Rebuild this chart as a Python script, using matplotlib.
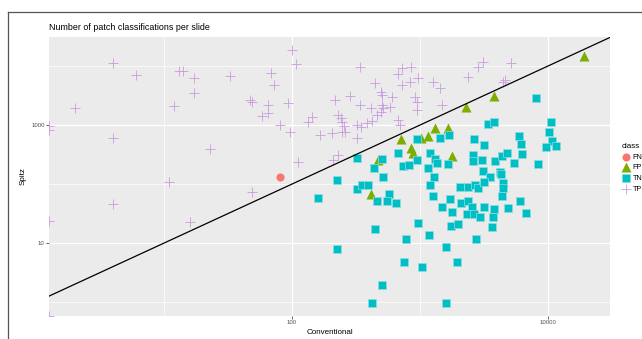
#!/usr/bin/env python3
# -*- coding: utf-8 -*-
"""Patch classifications per slide: Spitz vs Conventional, log-log scatter."""

import matplotlib
matplotlib.use('Agg')
import matplotlib.pyplot as plt
import numpy as np
from matplotlib.lines import Line2D
from matplotlib.ticker import NullFormatter

plt.rcParams['font.family'] = ['Liberation Sans', 'DejaVu Sans']

W, H = 642, 339

# Values. A 0 means the point sits on the panel edge.
fn_conventional = [81]
fn_spitz = [131]

fp_conventional = [19100, 3790, 2290, 1310, 1660, 1160, 1020, 711, 851, 882,
                   1780, 470, 414]
fp_spitz = [14800, 3100, 2020, 890, 890, 650, 600, 580, 407, 335,
            298, 255, 68]

tn_conventional = [8050, 3400, 3790, 10500, 10200, 10700, 11500, 9650, 5930,
                   6150, 6270, 2640, 3160, 1690, 1430, 948, 1200, 1310, 1360,
                   948, 1160, 1660, 2590, 2590, 3050, 3860, 4380, 4790, 5420,
                   8350, 3100, 4220, 322, 505, 673, 437, 736, 820, 225, 514,
                   322, 352, 392, 573, 552, 649, 461, 160, 965, 445, 778, 225,
                   750, 1040, 505, 422, 1290, 1200, 1270, 1490, 1180, 1600,
                   1950, 1600, 1720, 1780, 2050, 2370, 2690, 2840, 2090, 2370,
                   2550, 2330, 2640, 1750, 1980, 2740, 2940, 3160, 3520, 4300,
                   4450, 4450, 4380, 3790, 3720, 3650, 4870, 6040, 6730, 3160]
tn_spitz = [2870, 1040, 1120, 1120, 760, 536, 441, 424, 652,
            476, 322, 580, 458, 677, 603, 580, 335, 265, 227,
            255, 187, 218, 310, 245, 255, 245, 298, 335, 227,
            218, 166, 160, 276, 265, 335, 187, 202, 210, 117, 131,
            82, 96, 96, 68, 51.5, 47.6, 51.5, 58, 21.8, 17.3, 11.7, 7.9,
            4.76, 3.92, 1.94, 0.96, 131, 96, 62.7, 40.7, 13.7, 8.55,
            4.76, 0.96, 55.7, 33.5, 89, 89, 96, 85.5, 47.6, 51.5,
            40.7, 31, 31, 19.4, 21, 11.7, 27.6, 40.7, 131, 148,
            104, 85, 62.7, 37.7, 27.6, 18.7, 39.2, 51.5, 32.2, 108]

tp_conventional = [4, 6, 13, 14, 17, 17, 33, 2, 12, 0, 0, 4, 23, 100, 107, 68,
                   72, 340, 47, 49, 65, 93, 58, 65, 81, 96, 133, 143, 217, 284,
                   229, 241, 246, 255, 246, 260, 165, 205, 322, 340, 414, 322,
                   346, 385, 445, 495, 505, 604, 505, 514, 583, 461, 495, 422,
                   673, 698, 673, 723, 851, 723, 835, 965, 914, 948, 948, 229,
                   209, 111, 1265, 1433, 1486, 2370, 2840, 3100, 5140, 4450,
                   4610, 49, 4, 11, 16, 0, 0]
tp_spitz = [11200, 7000, 8200, 8200, 6300, 3500, 6800, 1940, 2100, 960, 820,
            600, 390, 18700, 10800, 7600, 4800, 9600, 2650, 2450, 2180, 2360,
            1420, 1600, 1000, 760, 1120, 1370, 2650, 3100, 1480, 1310, 1120,
            960, 760, 760, 680, 730, 600, 2180, 1940, 1000, 925, 1080, 5150,
            3620, 3220, 2990, 2180, 1940, 2020, 1480, 1660, 1170, 1215, 1000,
            7300, 9250, 9600, 4770, 5360, 6270, 2990, 2450, 1800, 310, 255,
            236, 5360, 4240, 2180, 6500, 9600, 11700, 11200, 5360, 5800, 73,
            46, 108, 23, 24, 0]

x_major = [100, 10000]
x_minor = [10, 1000]
y_major = [10, 1000]
y_minor = [1, 100, 10000]

XLIM = (1.26, 30500)
YLIM = (0.58, 31000)

PANEL = '#EBEBEB'
TICK_GREY = '#4D4D4D'


def on_panel(values, low):
    """Zeros cannot sit on a log axis, pin them to the panel edge."""
    values = np.asarray(values, dtype=float)
    return np.where(values > 0, values, low)


fig = plt.figure(figsize=(W / 100, H / 100), dpi=100)
ax = fig.add_axes([49 / W, 1 - 316 / H, (610 - 49) / W, (316 - 37) / H])
ax.set_facecolor(PANEL)
ax.set_xscale('log')
ax.set_yscale('log')
ax.set_xlim(*XLIM)
ax.set_ylim(*YLIM)

ax.set_xticks(x_major)
ax.set_xticklabels([str(v) for v in x_major])
ax.set_xticks(x_minor, minor=True)
ax.set_yticks(y_major)
ax.set_yticklabels([str(v) for v in y_major])
ax.set_yticks(y_minor, minor=True)
ax.xaxis.set_minor_formatter(NullFormatter())
ax.yaxis.set_minor_formatter(NullFormatter())
ax.tick_params(which='major', length=2, width=0.6, color=TICK_GREY,
               labelsize=4.3, labelcolor=TICK_GREY, pad=1.2)
ax.tick_params(which='minor', length=0)
ax.grid(which='major', color='white', linewidth=0.9)
ax.grid(which='minor', color='white', linewidth=0.5)
ax.set_axisbelow(True)
for spine in ax.spines.values():
    spine.set_visible(False)

series = [
    ('FN', fn_conventional, fn_spitz, dict(marker='o', s=34, color='#F8766D',
                                           linewidths=0)),
    ('FP', fp_conventional, fp_spitz, dict(marker='^', s=52, color='#7CAE00',
                                           linewidths=0)),
    ('TN', tn_conventional, tn_spitz, dict(marker='s', s=40,
                                           facecolor='#00BFC4',
                                           edgecolor='#8CDDE0',
                                           linewidths=0.5)),
    ('TP', tp_conventional, tp_spitz, dict(marker='+', s=62, color='#C99BDD',
                                           linewidths=0.6)),
]
handles = []
for label, xs, ys, style in series:
    h = ax.scatter(on_panel(xs, XLIM[0]), on_panel(ys, YLIM[0]), label=label,
                   zorder=3, clip_on=True, **style)
    handles.append(h)

# identity line, straight on the log-log panel
ax.axline((1, 1), (10, 10), color='black', linewidth=0.9, zorder=4)

ax.set_xlabel('Conventional', fontsize=5.8, labelpad=2.5)
ax.set_ylabel('Spitz', fontsize=5.8, labelpad=3)
fig.text(49 / W, 1 - 28 / H, 'Number of patch classifications per slide',
         fontsize=6.4, va='center', ha='left')

leg = fig.legend(handles=handles, loc='upper left',
                 bbox_to_anchor=(622 / W, 1 - 143 / H), frameon=False,
                 title='class', fontsize=5.2, title_fontsize=5.8,
                 handlelength=1.1, handletextpad=0.35, labelspacing=0.5,
                 borderpad=0, borderaxespad=0, markerscale=1.0)
leg._legend_box.align = 'left'

# frame drawn around the whole figure, cut at the right and bottom
border = dict(transform=fig.transFigure, color='#555555', linewidth=0.9)
fig.add_artist(Line2D([8 / W, 1], [1 - 12 / H, 1 - 12 / H], **border))
fig.add_artist(Line2D([8 / W, 8 / W], [0, 1 - 12 / H], **border))

fig.savefig('out.png', dpi=100)
